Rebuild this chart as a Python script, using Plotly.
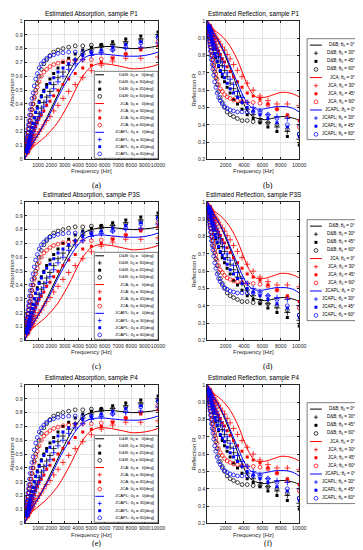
import plotly.graph_objects as go

# ---------------- data ----------------
SAMPLES = ["P1", "P3S", "P4"]
PANEL_LABELS = [("(a)", "(b)"), ("(c)", "(d)"), ("(e)", "(f)")]

# marker frequencies [Hz]
FREQ = [136, 156, 180, 206, 237, 272, 313, 359, 412, 474, 544, 625, 718, 825, 947, 1088,
        1250, 1436, 1649, 1895, 2176, 2500, 2872, 3299, 3789, 4353, 5000, 5743, 6598, 7579, 8706, 10000]
# model curve frequencies [Hz]
LINE_FREQ = [0, 250, 500, 750, 1000, 1500, 2000, 2500, 3000, 3500, 4000, 4500, 5000, 5500,
             6000, 6500, 7000, 7500, 8000, 8500, 9000, 9500, 10000]

# absorption, normal incidence (lines)
ABS_DB_0 = [0, 0.06, 0.10, 0.14, 0.18, 0.27, 0.37, 0.47, 0.57, 0.66, 0.73, 0.78, 0.80, 0.81,
            0.815, 0.815, 0.81, 0.805, 0.80, 0.80, 0.805, 0.81, 0.82]
ABS_JCA_0 = [0, 0.05, 0.08, 0.10, 0.12, 0.16, 0.21, 0.27, 0.35, 0.44, 0.54, 0.62, 0.67, 0.69,
             0.69, 0.685, 0.675, 0.665, 0.655, 0.655, 0.66, 0.67, 0.685]
ABS_JCAPL_0 = [0, 0.06, 0.10, 0.14, 0.18, 0.26, 0.35, 0.45, 0.54, 0.62, 0.69, 0.735, 0.755, 0.76,
               0.76, 0.755, 0.75, 0.745, 0.745, 0.745, 0.75, 0.76, 0.775]
# reflection, normal incidence (lines)
REF_DB_0 = [1.0, 0.970, 0.949, 0.927, 0.906, 0.854, 0.794, 0.728, 0.656, 0.583, 0.520, 0.469, 0.447,
            0.436, 0.430, 0.430, 0.436, 0.442, 0.447, 0.447, 0.442, 0.436, 0.424]
REF_JCA_0 = [1.0, 0.975, 0.959, 0.949, 0.938, 0.917, 0.889, 0.854, 0.806, 0.748, 0.678, 0.616, 0.574,
             0.557, 0.557, 0.561, 0.570, 0.579, 0.587, 0.587, 0.583, 0.574, 0.561]
REF_JCAPL_0 = [1.0, 0.970, 0.949, 0.927, 0.906, 0.860, 0.806, 0.742, 0.678, 0.616, 0.557, 0.515, 0.495,
               0.490, 0.490, 0.495, 0.500, 0.505, 0.505, 0.505, 0.500, 0.490, 0.474]

# absorption, oblique incidence (markers)
ABS_DB_30 = [0.05, 0.06, 0.06, 0.07, 0.08, 0.09, 0.10, 0.12, 0.13, 0.15, 0.17, 0.20, 0.23, 0.26, 0.29, 0.33,
             0.37, 0.41, 0.45, 0.49, 0.54, 0.59, 0.63, 0.68, 0.72, 0.76, 0.79, 0.81, 0.83, 0.85, 0.87, 0.90]
ABS_DB_45 = [0.06, 0.07, 0.08, 0.09, 0.10, 0.12, 0.13, 0.15, 0.17, 0.20, 0.23, 0.26, 0.30, 0.34, 0.38, 0.42,
             0.46, 0.50, 0.54, 0.58, 0.62, 0.66, 0.70, 0.73, 0.76, 0.79, 0.81, 0.83, 0.85, 0.87, 0.89, 0.92]
ABS_DB_60 = [0.10, 0.11, 0.13, 0.15, 0.17, 0.19, 0.22, 0.25, 0.28, 0.32, 0.36, 0.40, 0.45, 0.50, 0.55, 0.60,
             0.65, 0.69, 0.72, 0.75, 0.775, 0.79, 0.80, 0.81, 0.82, 0.82, 0.825, 0.825, 0.83, 0.84, 0.86, 0.88]
ABS_JCA_30 = [0.04, 0.04, 0.05, 0.05, 0.06, 0.07, 0.07, 0.08, 0.09, 0.10, 0.11, 0.12, 0.14, 0.16, 0.18, 0.20,
              0.22, 0.25, 0.28, 0.31, 0.35, 0.39, 0.44, 0.49, 0.54, 0.59, 0.64, 0.68, 0.71, 0.73, 0.73, 0.74]
ABS_JCA_45 = [0.05, 0.06, 0.06, 0.07, 0.08, 0.09, 0.10, 0.11, 0.12, 0.14, 0.16, 0.18, 0.21, 0.24, 0.27, 0.30,
              0.32, 0.35, 0.39, 0.42, 0.46, 0.50, 0.54, 0.58, 0.62, 0.66, 0.68, 0.70, 0.73, 0.76, 0.79, 0.82]
ABS_JCA_60 = [0.10, 0.11, 0.13, 0.15, 0.17, 0.19, 0.22, 0.25, 0.28, 0.32, 0.36, 0.40, 0.44, 0.48, 0.52, 0.56,
              0.60, 0.63, 0.65, 0.67, 0.685, 0.695, 0.705, 0.71, 0.715, 0.72, 0.72, 0.725, 0.735, 0.76, 0.80, 0.85]
ABS_JCAPL_30 = [0.05, 0.05, 0.06, 0.07, 0.08, 0.09, 0.10, 0.11, 0.12, 0.14, 0.16, 0.19, 0.22, 0.25, 0.28, 0.31,
                0.34, 0.38, 0.42, 0.46, 0.51, 0.56, 0.60, 0.65, 0.69, 0.72, 0.75, 0.77, 0.79, 0.80, 0.81, 0.84]
ABS_JCAPL_45 = [0.06, 0.07, 0.08, 0.09, 0.10, 0.12, 0.13, 0.15, 0.17, 0.20, 0.23, 0.26, 0.30, 0.34, 0.37, 0.41,
                0.45, 0.49, 0.52, 0.55, 0.59, 0.63, 0.66, 0.69, 0.72, 0.75, 0.77, 0.79, 0.81, 0.83, 0.85, 0.89]
ABS_JCAPL_60 = [0.12, 0.14, 0.16, 0.19, 0.22, 0.25, 0.28, 0.32, 0.36, 0.40, 0.44, 0.48, 0.53, 0.58, 0.62, 0.66,
                0.69, 0.71, 0.73, 0.745, 0.755, 0.765, 0.77, 0.775, 0.775, 0.775, 0.775, 0.78, 0.79, 0.81, 0.84, 0.88]

# reflection, oblique incidence (markers)
REF_DB_30 = [0.975, 0.970, 0.970, 0.964, 0.959, 0.954, 0.949, 0.938, 0.933, 0.922, 0.911, 0.894, 0.877, 0.860, 0.843, 0.819,
             0.794, 0.768, 0.742, 0.714, 0.678, 0.640, 0.608, 0.566, 0.529, 0.490, 0.458, 0.436, 0.412, 0.387, 0.361, 0.316]
REF_DB_45 = [0.970, 0.964, 0.959, 0.954, 0.949, 0.938, 0.933, 0.922, 0.911, 0.894, 0.877, 0.860, 0.837, 0.812, 0.787, 0.762,
             0.735, 0.707, 0.678, 0.648, 0.616, 0.583, 0.548, 0.520, 0.490, 0.458, 0.436, 0.412, 0.387, 0.361, 0.332, 0.283]
REF_DB_60 = [0.949, 0.943, 0.933, 0.922, 0.911, 0.900, 0.883, 0.866, 0.849, 0.825, 0.800, 0.775, 0.742, 0.707, 0.671, 0.632,
             0.592, 0.557, 0.529, 0.500, 0.474, 0.458, 0.447, 0.436, 0.424, 0.424, 0.418, 0.418, 0.412, 0.400, 0.374, 0.346]
REF_JCA_30 = [0.980, 0.980, 0.975, 0.975, 0.970, 0.964, 0.964, 0.959, 0.954, 0.949, 0.943, 0.938, 0.927, 0.917, 0.906, 0.894,
              0.883, 0.866, 0.849, 0.831, 0.806, 0.781, 0.748, 0.714, 0.678, 0.640, 0.600, 0.566, 0.539, 0.520, 0.520, 0.510]
REF_JCA_45 = [0.975, 0.970, 0.970, 0.964, 0.959, 0.954, 0.949, 0.943, 0.938, 0.927, 0.917, 0.906, 0.889, 0.872, 0.854, 0.837,
              0.825, 0.806, 0.781, 0.762, 0.735, 0.707, 0.678, 0.648, 0.616, 0.583, 0.566, 0.548, 0.520, 0.490, 0.458, 0.424]
REF_JCA_60 = [0.949, 0.943, 0.933, 0.922, 0.911, 0.900, 0.883, 0.866, 0.849, 0.825, 0.800, 0.775, 0.748, 0.721, 0.693, 0.663,
              0.632, 0.608, 0.592, 0.574, 0.561, 0.552, 0.543, 0.539, 0.534, 0.529, 0.529, 0.524, 0.515, 0.490, 0.447, 0.387]
REF_JCAPL_30 = [0.975, 0.975, 0.970, 0.964, 0.959, 0.954, 0.949, 0.943, 0.938, 0.927, 0.917, 0.900, 0.883, 0.866, 0.849, 0.831,
                0.812, 0.787, 0.762, 0.735, 0.700, 0.663, 0.632, 0.592, 0.557, 0.529, 0.500, 0.480, 0.458, 0.447, 0.436, 0.400]
REF_JCAPL_45 = [0.970, 0.964, 0.959, 0.954, 0.949, 0.938, 0.933, 0.922, 0.911, 0.894, 0.877, 0.860, 0.837, 0.812, 0.794, 0.768,
                0.742, 0.714, 0.693, 0.671, 0.640, 0.608, 0.583, 0.557, 0.529, 0.500, 0.480, 0.458, 0.436, 0.412, 0.387, 0.332]
REF_JCAPL_60 = [0.938, 0.927, 0.917, 0.900, 0.883, 0.866, 0.849, 0.825, 0.800, 0.775, 0.748, 0.721, 0.686, 0.648, 0.616, 0.583,
                0.557, 0.539, 0.520, 0.505, 0.495, 0.485, 0.480, 0.474, 0.474, 0.474, 0.474, 0.469, 0.458, 0.436, 0.400, 0.346]

ABS_TICKS = [1000, 2000, 3000, 4000, 5000, 6000, 7000, 8000, 9000, 10000]
REF_TICKS = [2000, 4000, 6000, 8000, 10000]

MODELS = ["D&B", "JCA", "JCAPL"]
ANGLES = [30, 45, 60]
COLORS = {"D&B": "#000000", "JCA": "#ff0000", "JCAPL": "#0000ff"}

ABS_LINES = {"D&B": ABS_DB_0, "JCA": ABS_JCA_0, "JCAPL": ABS_JCAPL_0}
REF_LINES = {"D&B": REF_DB_0, "JCA": REF_JCA_0, "JCAPL": REF_JCAPL_0}
ABS_MARK = {("D&B", 30): ABS_DB_30, ("D&B", 45): ABS_DB_45, ("D&B", 60): ABS_DB_60,
            ("JCA", 30): ABS_JCA_30, ("JCA", 45): ABS_JCA_45, ("JCA", 60): ABS_JCA_60,
            ("JCAPL", 30): ABS_JCAPL_30, ("JCAPL", 45): ABS_JCAPL_45, ("JCAPL", 60): ABS_JCAPL_60}
REF_MARK = {("D&B", 30): REF_DB_30, ("D&B", 45): REF_DB_45, ("D&B", 60): REF_DB_60,
            ("JCA", 30): REF_JCA_30, ("JCA", 45): REF_JCA_45, ("JCA", 60): REF_JCA_60,
            ("JCAPL", 30): REF_JCAPL_30, ("JCAPL", 45): REF_JCAPL_45, ("JCAPL", 60): REF_JCAPL_60}

# ---------------- layout geometry (pixels) ----------------
W, H = 363, 550
LEFT_X = (17, 153)
RIGHT_X = (203, 297)
ROWS = [(10, 150), (193, 333), (378, 518)]
LABEL_Y = [176, 359, 538.5]
FONT = "Liberation Sans, Arial, sans-serif"
INK = "#262626"


def pxx(x):
    return x / W


def pxy(y):
    return 1 - y / H


def marker_style(angle, color):
    if angle == 30:
        return dict(symbol="cross-thin-open", size=4.2, line=dict(color=color, width=0.8), color=color)
    if angle == 45:
        return dict(symbol="square", size=3.0, color=color, line=dict(width=0))
    return dict(symbol="circle-open", size=3.8, line=dict(color=color, width=0.75), color=color)


fig = go.Figure()
annotations = []
shapes = []
layout_axes = {}

for r, sample in enumerate(SAMPLES):
    top, bot = ROWS[r]
    for c in range(2):
        idx = 2 * r + c + 1
        xs = "" if idx == 1 else str(idx)
        xa, ya = "x" + xs, "y" + xs
        is_abs = c == 0
        lines = ABS_LINES if is_abs else REF_LINES
        marks = ABS_MARK if is_abs else REF_MARK
        for m in MODELS:
            fig.add_trace(go.Scatter(x=LINE_FREQ, y=lines[m], mode="lines", line_shape="spline",
                                     line=dict(color=COLORS[m], width=1), xaxis=xa, yaxis=ya,
                                     showlegend=False, hoverinfo="skip"))
            for a in ANGLES:
                fig.add_trace(go.Scatter(x=FREQ, y=marks[(m, a)], mode="markers",
                                         marker=marker_style(a, COLORS[m]), xaxis=xa, yaxis=ya,
                                         showlegend=False, hoverinfo="skip"))
        x0, x1 = LEFT_X if is_abs else RIGHT_X
        ticks = ABS_TICKS if is_abs else REF_TICKS
        common = dict(showline=True, linecolor=INK, linewidth=0.8, mirror="ticks", ticks="inside",
                      ticklen=2, tickwidth=0.6, tickcolor=INK, showgrid=True, gridcolor="#e3e3e3",
                      gridwidth=0.6, zeroline=False, tickangle=0,
                      tickfont=dict(family=FONT, size=5.2, color=INK))
        layout_axes["xaxis" + xs] = dict(domain=[pxx(x0), pxx(x1)], range=[0, 10000], anchor=ya,
                                         tickvals=ticks, ticktext=[str(t) for t in ticks], **common)
        if is_abs:
            yt = [i / 10 for i in range(0, 11)]
            ytxt = ["0"] + ["%.1f" % v for v in yt[1:-1]] + ["1"]
            yr = [0, 1]
        else:
            yt = [i / 10 for i in range(2, 11)]
            ytxt = ["%.1f" % v for v in yt[:-1]] + ["1"]
            yr = [0.2, 1]
        layout_axes["yaxis" + xs] = dict(domain=[pxy(bot), pxy(top)], range=yr, anchor=xa,
                                         tickvals=yt, ticktext=ytxt, **common)
        # title
        ttl = ("Estimated Absorption, sample " if is_abs else "Estimated Reflection, sample ") + sample
        annotations.append(dict(text=ttl, x=pxx((x0 + x1) / 2), y=pxy(top - 1), xref="paper", yref="paper",
                                xanchor="center", yanchor="bottom", showarrow=False,
                                font=dict(family=FONT, size=6.3, color="#000")))
        annotations.append(dict(text="Frequency [Hz]", x=pxx((x0 + x1) / 2), y=pxy(bot + 6.5), xref="paper",
                                yref="paper", xanchor="center", yanchor="top", showarrow=False,
                                font=dict(family=FONT, size=6, color=INK)))
        annotations.append(dict(text="Absorption α" if is_abs else "Reflection R",
                                x=pxx(x0 - 13), y=pxy((top + bot) / 2), xref="paper", yref="paper",
                                xanchor="center", yanchor="middle", textangle=-90, showarrow=False,
                                font=dict(family=FONT, size=6, color=INK)))
        annotations.append(dict(text=PANEL_LABELS[r][c], x=pxx(90 if is_abs else 265), y=pxy(LABEL_Y[r]),
                                xref="paper", yref="paper", xanchor="center", yanchor="middle",
                                showarrow=False,
                                font=dict(family="Liberation Serif, DejaVu Serif, serif", size=8,
                                          color="#000")))


# ---------------- legends (drawn as layout shapes above the data) ----------------
def pshape(kind, xa0, ya0, xa1, ya1, **kw):
    d = dict(type=kind, xref="paper", yref="paper", x0=pxx(xa0), y0=pxy(ya0), x1=pxx(xa1), y1=pxy(ya1),
             layer="above")
    d.update(kw)
    shapes.append(d)


def glyph(angle, color, cx, cy, seg):
    if angle == 0:
        pshape("line", seg[0], cy, seg[1], cy, line=dict(color=color, width=1))
    elif angle == 30:
        pshape("line", cx - 2, cy, cx + 2, cy, line=dict(color=color, width=0.8))
        pshape("line", cx, cy - 2, cx, cy + 2, line=dict(color=color, width=0.8))
    elif angle == 45:
        pshape("rect", cx - 1.5, cy - 1.5, cx + 1.5, cy + 1.5, fillcolor=color, line=dict(width=0))
    else:
        pshape("circle", cx - 1.9, cy - 1.9, cx + 1.9, cy + 1.9, fillcolor="white",
               line=dict(color=color, width=0.75))


def draw_legend(bx0, by0, bx1, by1, first_row, gap, seg, text_right, deg_style, fsize):
    pshape("rect", bx0, by0, bx1, by1, fillcolor="white", line=dict(color=INK, width=0.6))
    row = 0
    for m in MODELS:
        for a in [0] + ANGLES:
            yy = first_row + row * gap
            glyph(a, COLORS[m], (seg[0] + seg[1]) / 2, yy, seg)
            if deg_style:
                ang = ("\u2007" + str(a)) if a == 0 else str(a)
                txt = "%s; θ<sub>0</sub> = %s[deg]" % (m, ang)
            else:
                txt = "%s; θ<sub>0</sub> = %s°" % (m, str(a))
            annotations.append(dict(text=txt, x=pxx(text_right), y=pxy(yy), xref="paper", yref="paper",
                                    xanchor="right", yanchor="middle", showarrow=False,
                                    font=dict(family=FONT, size=fsize, color="#000")))
            row += 1


for r in range(3):
    top, bot = ROWS[r]
    draw_legend(88, top + 51, 153, top + 139, top + 54.5, 7.27, (89, 98), 151, True, 4.3)
    draw_legend(305, top + 18, 362.5, top + 120, top + 24.5, 8.2, (308, 320), 356, False, 4.5)

fig.update_layout(width=W, height=H, margin=dict(l=0, r=0, t=0, b=0), paper_bgcolor="white",
                  plot_bgcolor="white", showlegend=False, annotations=annotations, shapes=shapes,
                  **layout_axes)
fig.write_html("out.html")
